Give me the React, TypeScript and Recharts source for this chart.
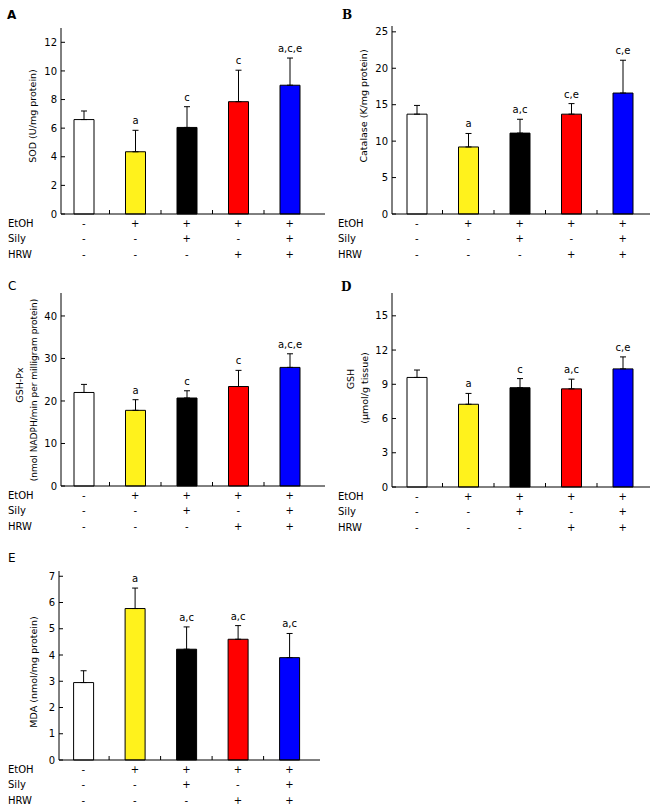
import React from 'react';
import { BarChart, Bar, XAxis, YAxis, ErrorBar, Cell, LabelList } from 'recharts';

// groups and treatment table
const groups = ['Control', 'EtOH', 'EtOH+Sily', 'EtOH+HRW', 'EtOH+Sily+HRW'];
const rowNames = ['EtOH', 'Sily', 'HRW'];
const etohRow = ['-', '+', '+', '+', '+'];
const silyRow = ['-', '-', '+', '-', '+'];
const hrwRow = ['-', '-', '-', '+', '+'];
const barColors = ['#FFFFFF', '#FFF21C', '#000000', '#FF0000', '#0000FF'];

// A - SOD
const sodMean = [6.6, 4.35, 6.05, 7.85, 9.0];
const sodErr = [0.6, 1.5, 1.45, 2.2, 1.9];
const sodSig = ['', 'a', 'c', 'c', 'a,c,e'];
const sodTicks = [0, 2, 4, 6, 8, 10, 12];

// B - Catalase
const catMean = [13.7, 9.2, 11.1, 13.7, 16.6];
const catErr = [1.2, 1.85, 1.9, 1.45, 4.5];
const catSig = ['', 'a', 'a,c', 'c,e', 'c,e'];
const catTicks = [0, 5, 10, 15, 20, 25];

// C - GSH-Px
const gpxMean = [22.0, 17.8, 20.7, 23.4, 27.9];
const gpxErr = [1.9, 2.5, 1.7, 3.8, 3.2];
const gpxSig = ['', 'a', 'c', 'c', 'a,c,e'];
const gpxTicks = [0, 10, 20, 30, 40];

// D - GSH
const gshMean = [9.6, 7.25, 8.7, 8.6, 10.35];
const gshErr = [0.65, 0.95, 0.8, 0.85, 1.05];
const gshSig = ['', 'a', 'c', 'a,c', 'c,e'];
const gshTicks = [0, 3, 6, 9, 12, 15];

// E - MDA
const mdaMean = [2.95, 5.77, 4.22, 4.6, 3.9];
const mdaErr = [0.45, 0.78, 0.85, 0.52, 0.92];
const mdaSig = ['', 'a', 'a,c', 'a,c', 'a,c'];
const mdaTicks = [0, 1, 2, 3, 4, 5, 6, 7];

const BAND = 51.5;
const CH = 270;
const XH = 50;
const FS = 10;
const FONT = '"DejaVu Sans", Verdana, sans-serif';
const rowBase = [12.6, 28.2, 43.6];

const YTick = (props: any) => {
  const { x, y, payload } = props;
  return (
    <g>
      <line x1={x + 4} x2={x + 8} y1={y} y2={y} stroke="#000" />
      <text x={x} y={y} dy={3.6} textAnchor="end" fontSize={FS} fill="#000">{payload.value}</text>
    </g>
  );
};

const XTick = (props: any) => {
  const { x, y, payload } = props;
  const i = groups.indexOf(payload.value);
  return (
    <g>
      {i < groups.length - 1 && (
        <line x1={x + BAND / 2} x2={x + BAND / 2} y1={y} y2={y - 4} stroke="#000" />
      )}
      {[etohRow, silyRow, hrwRow].map((row, r) => (
        <text key={r} x={x} y={y + rowBase[r]} textAnchor="middle" fontSize={FS} fill="#000">{row[i]}</text>
      ))}
    </g>
  );
};

interface PanelProps {
  letter: string;
  letterStyle: React.CSSProperties;
  letterPos: [number, number];
  left: number;
  top: number;
  means: number[];
  errs: number[];
  sig: string[];
  ticks: number[];
  yMax: number;
  yAxisWidth: number;
  margin: { top: number; right: number; bottom: number };
  padLeft: number;
  yLabel: string[];
  labelX: number[];
  labelY: number[];
  labelSize: number[];
}

const Panel: React.FC<PanelProps> = (p) => {
  const data = groups.map((g, i) => ({
    group: g,
    value: p.means[i],
    errRange: [0, p.errs[i]],
    sig: p.sig[i],
  }));
  const plotW = 330 - p.yAxisWidth - p.margin.right;
  const padRight = plotW - 5 * BAND - p.padLeft;
  const axisY = CH - p.margin.bottom - XH;

  return (
    <div style={{ position: 'absolute', left: p.left, top: p.top, width: 330, height: CH }}>
      <BarChart
        width={330}
        height={CH}
        data={data}
        margin={{ top: p.margin.top, right: p.margin.right, bottom: p.margin.bottom, left: 0 }}
        barSize={20}
      >
        <XAxis
          dataKey="group"
          height={XH}
          interval={0}
          tickSize={0}
          tickMargin={0}
          tickLine={false}
          axisLine={{ stroke: '#000' }}
          padding={{ left: p.padLeft, right: padRight }}
          tick={<XTick />}
        />
        <YAxis
          width={p.yAxisWidth}
          domain={[0, p.yMax]}
          ticks={p.ticks}
          interval={0}
          tickSize={0}
          tickMargin={4}
          tickLine={false}
          axisLine={{ stroke: '#000' }}
          tick={<YTick />}
        />
        <Bar dataKey="value" stroke="#000" strokeWidth={1} isAnimationActive={false}>
          {data.map((d, i) => (
            <Cell key={d.group} fill={barColors[i]} />
          ))}
          <ErrorBar dataKey="errRange" direction="y" width={3} stroke="#000" strokeWidth={1} />
          <LabelList
            dataKey="sig"
            content={(lp: any) => {
              const { x, y, width, height, index, value } = lp;
              if (!value) return null;
              const topY = y - (p.errs[index] * height) / p.means[index];
              return (
                <text x={x + width / 2} y={topY - 6} textAnchor="middle" fontSize={FS} fill="#000">
                  {value}
                </text>
              );
            }}
          />
        </Bar>
      </BarChart>
      <svg width={330} height={CH} style={{ position: 'absolute', left: 0, top: 0, pointerEvents: 'none' }}>
        <text x={p.letterPos[0]} y={p.letterPos[1]} style={p.letterStyle} fill="#000">{p.letter}</text>
        {p.yLabel.map((t, k) => (
          <text
            key={k}
            x={p.labelX[k]}
            y={p.labelY[k]}
            transform={`rotate(-90 ${p.labelX[k]} ${p.labelY[k]})`}
            textAnchor="middle"
            fontSize={p.labelSize[k]}
            fill="#000"
          >
            {t}
          </text>
        ))}
        {rowNames.map((n, r) => (
          <text key={n} x={8} y={axisY + rowBase[r]} fontSize={FS} fill="#000">{n}</text>
        ))}
      </svg>
    </div>
  );
};

const sansBold: React.CSSProperties = { fontFamily: FONT, fontWeight: 'bold', fontSize: 12 };
const serifBold: React.CSSProperties = { fontFamily: '"DejaVu Serif", serif', fontWeight: 'bold', fontSize: 12 };
const sansReg: React.CSSProperties = { fontFamily: FONT, fontSize: 12 };

export default function App() {
  return (
    <div style={{ position: 'absolute', left: 0, top: 0, width: 660, height: 811, background: '#fff', fontFamily: FONT }}>
      <Panel
        letter="A" letterStyle={sansBold} letterPos={[7, 18.5]}
        left={0} top={0}
        means={sodMean} errs={sodErr} sig={sodSig} ticks={sodTicks} yMax={13}
        yAxisWidth={61} margin={{ top: 28, right: 5, bottom: 6 }} padLeft={-3}
        yLabel={['SOD (U/mg protein)']} labelX={[36]} labelY={[116]} labelSize={[9.5]}
      />
      <Panel
        letter="B" letterStyle={serifBold} letterPos={[12, 18.5]}
        left={330} top={0}
        means={catMean} errs={catErr} sig={catSig} ticks={catTicks} yMax={25.8}
        yAxisWidth={62} margin={{ top: 26, right: 10, bottom: 6 }} padLeft={-1}
        yLabel={['Catalase (K/mg protein)']} labelX={[36.5]} labelY={[106]} labelSize={[9.5]}
      />
      <Panel
        letter="C" letterStyle={sansReg} letterPos={[8, 20]}
        left={0} top={270}
        means={gpxMean} errs={gpxErr} sig={gpxSig} ticks={gpxTicks} yMax={45.4}
        yAxisWidth={61} margin={{ top: 23, right: 5, bottom: 4 }} padLeft={-3}
        yLabel={['GSH-Px', '(nmol NADPH/min per milligram protein)']} labelX={[23, 37]} labelY={[115, 120]}
        labelSize={[9.5, 9]}
      />
      <Panel
        letter="D" letterStyle={serifBold} letterPos={[11, 21]}
        left={330} top={270}
        means={gshMean} errs={gshErr} sig={gshSig} ticks={gshTicks} yMax={17}
        yAxisWidth={62} margin={{ top: 23, right: 10, bottom: 3 }} padLeft={-1}
        yLabel={['GSH', '(\u03bcmol/g tissue)']} labelX={[24, 38]} labelY={[109, 118]} labelSize={[9.5, 9.5]}
      />
      <Panel
        letter="E" letterStyle={sansReg} letterPos={[8, 22]}
        left={0} top={540}
        means={mdaMean} errs={mdaErr} sig={mdaSig} ticks={mdaTicks} yMax={7.2}
        yAxisWidth={59} margin={{ top: 31, right: 10, bottom: 0 }} padLeft={-1.4}
        yLabel={['MDA (nmol/mg protein)']} labelX={[36.5]} labelY={[132]} labelSize={[9.5]}
      />
    </div>
  );
}
